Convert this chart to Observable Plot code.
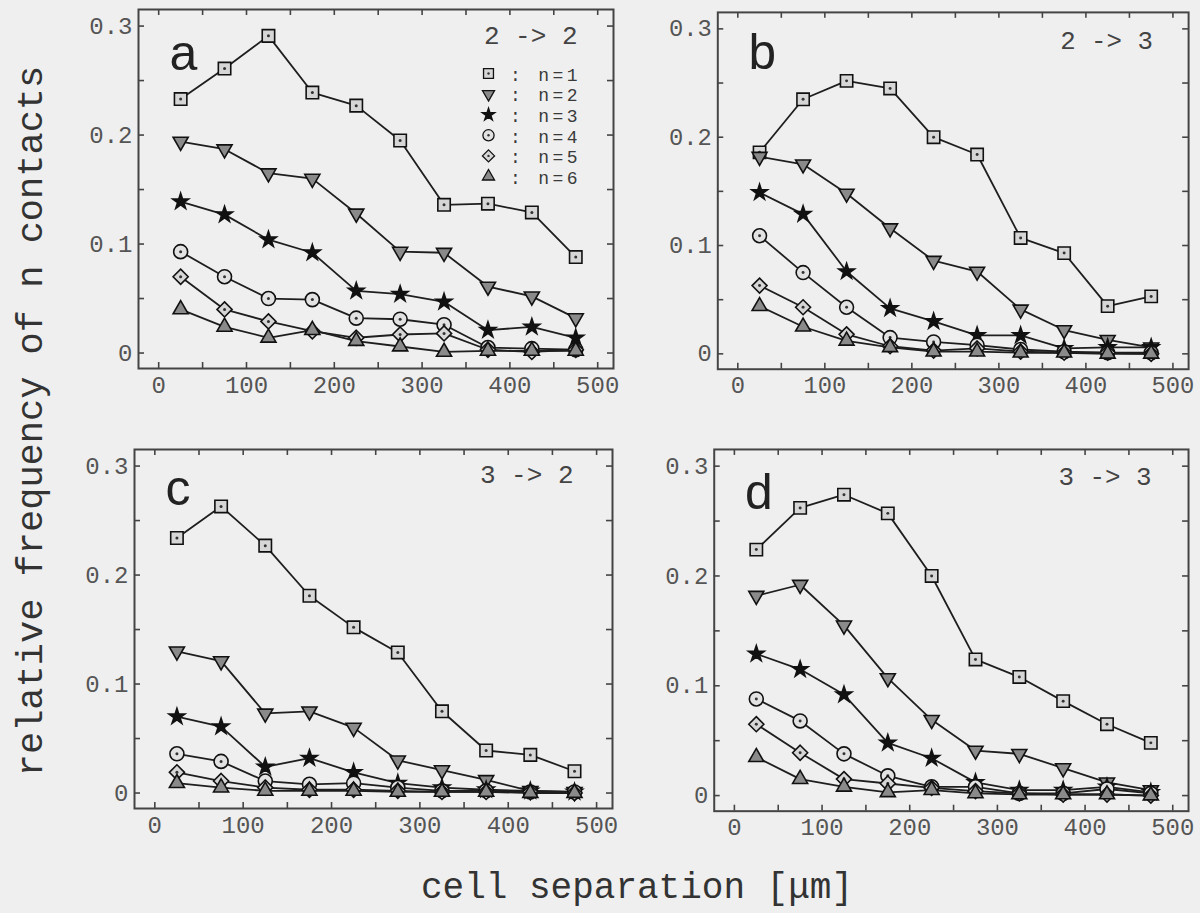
<!DOCTYPE html>
<html>
<head>
<meta charset="utf-8">
<script src="https://cdn.jsdelivr.net/npm/d3@7"></script>
<script src="https://cdn.jsdelivr.net/npm/@observablehq/plot@0.6"></script>
<style>
  html, body { margin: 0; padding: 0; background: #efefef; }
  #root { position: relative; width: 1200px; height: 913px; overflow: hidden; background: #efefef; }
  .panel { position: absolute; }
  .xlab, .ylab { position: absolute; font-family: "Liberation Mono", "DejaVu Sans Mono", monospace; color: #333; white-space: nowrap; line-height: 36px; }
  .xlab { font-size: 36px; left: 637px; top: 871px; transform: translateX(-50%); }
  .ylab { font-size: 37px; left: 32px; top: 421px; transform: translate(-50%, -50%) rotate(-90deg); }
</style>
</head>
<body>
<div id="root">
  <div class="ylab">relative frequency of n contacts</div>
  <div class="xlab">cell separation [μm]</div>
</div>
<script>
// ---- data ----
const separation = [25, 75, 125, 175, 225, 275, 325, 375, 425, 475];
const seriesNames = ["n=1", "n=2", "n=3", "n=4", "n=5", "n=6"];
const panelLetters = ["a", "b", "c", "d"];
const panelTitles = ["2 -> 2", "2 -> 3", "3 -> 2", "3 -> 3"];
const xTickLabels = [0, 100, 200, 300, 400, 500];
const yTickLabels = [0, 0.1, 0.2, 0.3];

const panelA = [
  [0.233, 0.261, 0.291, 0.239, 0.227, 0.195, 0.136, 0.137, 0.129, 0.088],
  [0.194, 0.187, 0.165, 0.160, 0.128, 0.093, 0.092, 0.061, 0.052, 0.032],
  [0.139, 0.127, 0.104, 0.092, 0.057, 0.054, 0.047, 0.021, 0.024, 0.014],
  [0.093, 0.070, 0.050, 0.049, 0.032, 0.031, 0.026, 0.005, 0.004, 0.003],
  [0.070, 0.040, 0.029, 0.020, 0.014, 0.017, 0.018, 0.003, 0.001, 0.003],
  [0.040, 0.024, 0.014, 0.021, 0.011, 0.006, 0.001, 0.002, 0.002, 0.002]
];
const panelB = [
  [0.186, 0.235, 0.252, 0.245, 0.200, 0.184, 0.107, 0.093, 0.044, 0.053],
  [0.182, 0.175, 0.148, 0.116, 0.086, 0.076, 0.041, 0.022, 0.013, 0.006],
  [0.149, 0.129, 0.076, 0.042, 0.030, 0.017, 0.017, 0.005, 0.006, 0.006],
  [0.109, 0.075, 0.043, 0.015, 0.011, 0.008, 0.004, 0.002, 0.001, 0.001],
  [0.063, 0.043, 0.018, 0.007, 0.003, 0.005, 0.002, 0.001, 0.001, 0.000],
  [0.044, 0.025, 0.012, 0.006, 0.002, 0.002, 0.001, 0.001, 0.000, 0.000]
];
const panelC = [
  [0.234, 0.263, 0.227, 0.181, 0.152, 0.129, 0.075, 0.039, 0.035, 0.020],
  [0.130, 0.121, 0.073, 0.075, 0.060, 0.030, 0.021, 0.012, 0.002, 0.001],
  [0.070, 0.061, 0.024, 0.032, 0.019, 0.009, 0.005, 0.003, 0.002, 0.001],
  [0.036, 0.029, 0.011, 0.008, 0.009, 0.005, 0.002, 0.002, 0.001, 0.001],
  [0.019, 0.011, 0.005, 0.003, 0.003, 0.002, 0.001, 0.001, 0.001, 0.000],
  [0.009, 0.005, 0.002, 0.002, 0.002, 0.001, 0.001, 0.001, 0.000, 0.000]
];
const panelD = [
  [0.224, 0.262, 0.274, 0.257, 0.200, 0.124, 0.108, 0.086, 0.065, 0.048],
  [0.182, 0.192, 0.155, 0.107, 0.069, 0.041, 0.038, 0.025, 0.012, 0.005],
  [0.129, 0.115, 0.092, 0.048, 0.034, 0.012, 0.005, 0.005, 0.008, 0.003],
  [0.088, 0.068, 0.038, 0.018, 0.008, 0.008, 0.002, 0.002, 0.006, 0.002],
  [0.065, 0.039, 0.015, 0.011, 0.007, 0.004, 0.002, 0.001, 0.001, 0.000],
  [0.035, 0.015, 0.008, 0.003, 0.005, 0.002, 0.001, 0.001, 0.001, 0.000]
];

// ---- styling / layout ----
const MONO = "Liberation Mono, DejaVu Sans Mono, monospace";
const sqrt3 = Math.sqrt(3);
const triangleDown = {
  draw(context, size) {
    const y = -Math.sqrt(size / (sqrt3 * 3));
    context.moveTo(0, -y * 2);
    context.lineTo(-sqrt3 * y, y);
    context.lineTo(sqrt3 * y, y);
    context.closePath();
  }
};
const seriesStyle = [
  {symbol: "square", r: 7.0, fill: "#d6d6d6", inner: true},
  {symbol: triangleDown, r: 5.6, fill: "#8a8a8a", inner: false},
  {symbol: "star", r: 5.0, fill: "#111", inner: false},
  {symbol: "circle", r: 7.0, fill: "#e2e2e2", inner: true},
  {symbol: "diamond2", r: 6.8, fill: "#d6d6d6", inner: true},
  {symbol: "triangle", r: 5.6, fill: "#8a8a8a", inner: false}
];
const layouts = [
  {left: 138, top: 9, w: 475, h: 359, letterDy: 25, titleDy: 16, titleDx: -36},
  {left: 718, top: 12, w: 475, h: 360, letterDy: 22, titleDy: 18, titleDx: -36},
  {left: 134, top: 449, w: 478, h: 359, letterDy: 20, titleDy: 15, titleDx: -39},
  {left: 714, top: 449, w: 476, h: 363, letterDy: 24, titleDy: 17, titleDx: -37}
];
const ML = 80, MT = 10, MR = 12, MB = 45;
const xDomain = [-23, 518];
const yDomain = [-0.0142, 0.3152];
const xMinor = d3.range(0, 501, 50);
const yMinor = d3.range(0, 0.3001, 0.05);
const TICK = 6;
const LEG_ROW = 20.6, LEG_FONT = 18, LEG_SPACING = 3.4;

const panels = [panelA, panelB, panelC, panelD];
const root = document.getElementById("root");

panels.forEach((series, p) => {
  const L = layouts[p];
  const rows = series.flatMap((vals, s) => vals.map((v, i) => ({x: separation[i], y: v, n: s})));
  const marks = [];

  // inward ticks on all four sides
  const tickStyle = {stroke: "#444", strokeWidth: 1.6};
  marks.push(Plot.tickX(xMinor, {x: d => d, insetTop: L.h - TICK, ...tickStyle}));
  marks.push(Plot.tickX(xMinor, {x: d => d, insetBottom: L.h - TICK, ...tickStyle}));
  marks.push(Plot.tickY(yMinor, {y: d => d, insetRight: L.w - TICK, ...tickStyle}));
  marks.push(Plot.tickY(yMinor, {y: d => d, insetLeft: L.w - TICK, ...tickStyle}));
  // tick labels
  marks.push(Plot.axisX({anchor: "bottom", ticks: xTickLabels, tickSize: 0, tickPadding: 7, label: null, fill: "#555", fontSize: 24, fontFamily: MONO}));
  marks.push(Plot.axisY({anchor: "left", ticks: yTickLabels, tickSize: 0, tickPadding: 6, label: null, fill: "#555", fontSize: 24, fontFamily: MONO,
    tickFormat: d => d === 0 ? "0" : d3.format(".1f")(d)}));

  // series
  series.forEach((vals, s) => {
    const st = seriesStyle[s];
    const data = rows.filter(d => d.n === s);
    marks.push(Plot.line(data, {x: "x", y: "y", stroke: "#1e1e1e", strokeWidth: 1.8}));
    marks.push(Plot.dot(data, {x: "x", y: "y", symbol: st.symbol, r: st.r, fill: st.fill, stroke: "#111", strokeWidth: 1.6}));
    if (st.inner) marks.push(Plot.dot(data, {x: "x", y: "y", r: 1.5, fill: "#333"}));
  });

  // legend (panel a only)
  if (p === 0) {
    seriesNames.forEach((name, s) => {
      const st = seriesStyle[s];
      const dy = 64 + s * LEG_ROW;
      marks.push(Plot.dot([name], {frameAnchor: "top-right", dx: -125, dy, symbol: st.symbol, r: st.r * 0.8, fill: st.fill, stroke: "#111", strokeWidth: 1.3}));
      if (st.inner) marks.push(Plot.dot([name], {frameAnchor: "top-right", dx: -125, dy, r: 1.2, fill: "#333"}));
    });
    marks.push(Plot.text([seriesNames.map(n => ": " + n).join("\n")], {
      frameAnchor: "top-right", lineAnchor: "top", dx: -36 + LEG_SPACING, dy: 64 - 0.41 * LEG_FONT,
      text: d => d, textAnchor: "end", fontSize: LEG_FONT, lineHeight: LEG_ROW / LEG_FONT,
      fontFamily: MONO, fill: "#3a3a3a"
    }));
  }

  // panel letter and title
  marks.push(Plot.text([panelLetters[p]], {frameAnchor: "top-left", dx: 31, dy: L.letterDy, text: d => d, textAnchor: "start", fontSize: 50, fontFamily: "Liberation Sans, Arial, sans-serif", fill: "#222"}));
  marks.push(Plot.text([panelTitles[p]], {frameAnchor: "top-right", dx: L.titleDx, dy: L.titleDy, text: d => d, textAnchor: "end", fontSize: 26, fontFamily: MONO, fill: "#444"}));

  marks.push(Plot.frame({stroke: "#444", strokeWidth: 2}));

  const chart = Plot.plot({
    width: ML + L.w + MR,
    height: MT + L.h + MB,
    marginLeft: ML, marginTop: MT, marginRight: MR, marginBottom: MB,
    x: {domain: xDomain},
    y: {domain: yDomain},
    style: {background: "transparent", fontFamily: MONO, fontSize: "24px", color: "#444", overflow: "visible"},
    marks
  });
  // widen the compact legend text to the reference's character pitch
  d3.select(chart).selectAll("text")
    .filter(function () { return this.textContent.startsWith(":"); })
    .attr("letter-spacing", LEG_SPACING)
    .style("letter-spacing", LEG_SPACING + "px");
  const div = document.createElement("div");
  div.className = "panel";
  div.style.left = (L.left - ML) + "px";
  div.style.top = (L.top - MT) + "px";
  div.appendChild(chart);
  root.appendChild(div);
});
</script>
</body>
</html>
